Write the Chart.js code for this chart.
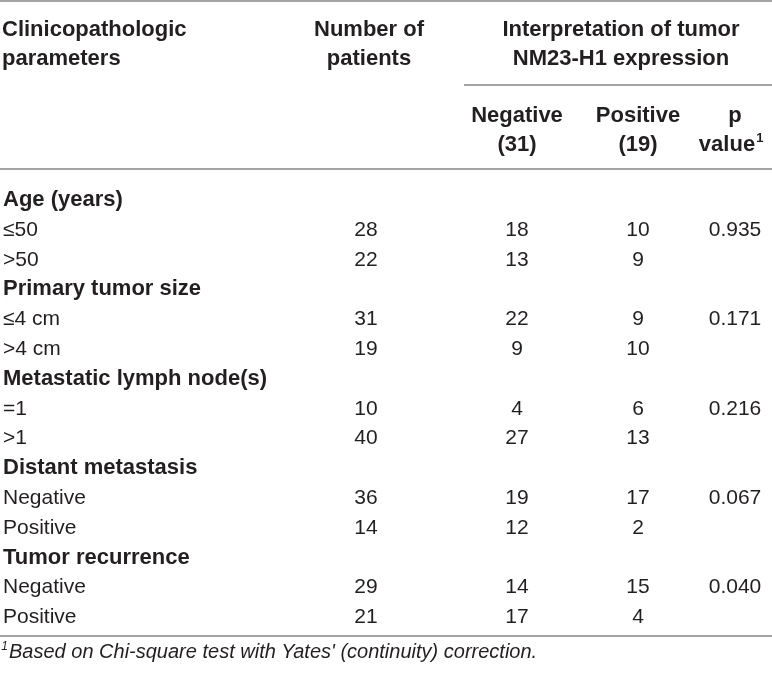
<!DOCTYPE html>
<html>
<head>
    <title>NM23-H1 expression table</title>
    <script src="https://cdn.jsdelivr.net/npm/chart.js@4.4.0/dist/chart.umd.min.js"></script>
    <style>
        body { margin: 0; background: #fff; }
        #tableCanvas { display: block; }
    </style>
</head>
<body>
    <canvas id="tableCanvas" width="772" height="677"></canvas>

    <script>
        // Table data
        const categories = ['Age (years)', '≤50', '>50', 'Primary tumor size', '≤4 cm', '>4 cm',
            'Metastatic lymph node(s)', '=1', '>1', 'Distant metastasis', 'Negative', 'Positive',
            'Tumor recurrence', 'Negative', 'Positive'];
        const groupRows = [0, 3, 6, 9, 12];
        const patients = [null, 28, 22, null, 31, 19, null, 10, 40, null, 36, 14, null, 29, 21];
        const negative = [null, 18, 13, null, 22, 9, null, 4, 27, null, 19, 12, null, 14, 17];
        const positive = [null, 10, 9, null, 9, 10, null, 6, 13, null, 17, 2, null, 15, 4];
        const pValues = [null, '0.935', null, null, '0.171', null, null, '0.216', null, null, '0.067', null, null, '0.040', null];
        const footnote = 'Based on Chi-square test with Yates\' (continuity) correction.';

        // Layout (canvas pixels, used as scale units)
        const W = 772, H = 677;
        const bodyTop = 206, rowStep = 29.8;
        const colX = { label: 3, patients: 366, negative: 517, positive: 638, p: 735 };
        const textColor = '#231f20';
        const ruleColor = '#a3a3a3';
        const boldFont = 'bold 22px "Liberation Sans", Arial, sans-serif';
        const regFont = '21px "Liberation Sans", Arial, sans-serif';
        const italicFont = 'italic 20px "Liberation Sans", Arial, sans-serif';

        const rowY = i => bodyTop + rowStep * i;

        function textSet(points, texts, font, align, extra) {
            return Object.assign({
                type: 'scatter',
                data: points,
                texts: texts,
                font: font,
                align: align,
                pointRadius: 0,
                pointHoverRadius: 0,
                showLine: false
            }, extra || {});
        }

        function rule(x1, x2, y) {
            return {
                type: 'line',
                data: [{ x: x1, y: y }, { x: x2, y: y }],
                borderColor: ruleColor,
                borderWidth: 2,
                pointRadius: 0,
                showLine: true,
                fill: false
            };
        }

        // Body columns
        function column(values, x, align) {
            const pts = [], txt = [];
            values.forEach((v, i) => {
                if (v === null) return;
                pts.push({ x: x, y: rowY(i) });
                txt.push(String(v));
            });
            return textSet(pts, txt, regFont, align);
        }

        const labelPts = [], labelTxt = [], groupPts = [], groupTxt = [];
        categories.forEach((c, i) => {
            if (groupRows.includes(i)) {
                groupPts.push({ x: colX.label, y: rowY(i) });
                groupTxt.push(c);
            } else {
                labelPts.push({ x: colX.label, y: rowY(i) });
                labelTxt.push(c);
            }
        });

        const datasets = [
            // rules
            rule(0, W, 1),
            rule(464, W, 85),
            rule(0, W, 169),
            rule(0, W, 636),
            // header
            textSet([{ x: 2, y: 36 }, { x: 2, y: 65 }], ['Clinicopathologic', 'parameters'], boldFont, 'left'),
            textSet([{ x: 369, y: 36 }, { x: 369, y: 65 }], ['Number of', 'patients'], boldFont, 'center'),
            textSet([{ x: 621, y: 36 }, { x: 621, y: 65 }], ['Interpretation of tumor', 'NM23-H1 expression'], boldFont, 'center'),
            textSet([{ x: 517, y: 122 }, { x: 517, y: 151 }], ['Negative', '(31)'], boldFont, 'center'),
            textSet([{ x: 638, y: 122 }, { x: 638, y: 151 }], ['Positive', '(19)'], boldFont, 'center'),
            textSet([{ x: 735, y: 122 }, { x: 727, y: 151 }], ['p', 'value'], boldFont, 'center', { sup: [null, '1'] }),
            // body
            textSet(groupPts, groupTxt, boldFont, 'left'),
            textSet(labelPts, labelTxt, regFont, 'left'),
            column(patients, colX.patients, 'center'),
            column(negative, colX.negative, 'center'),
            column(positive, colX.positive, 'center'),
            column(pValues, colX.p, 'center'),
            // footnote
            textSet([{ x: 9, y: 658 }], [footnote], italicFont, 'left', { supBefore: '1' })
        ];

        // Draw the texts at the positions the scales give each point
        const cellText = {
            id: 'cellText',
            afterDatasetsDraw(chart) {
                const ctx = chart.ctx;
                ctx.save();
                ctx.fillStyle = textColor;
                ctx.textBaseline = 'alphabetic';
                chart.data.datasets.forEach((ds, di) => {
                    if (!ds.texts) return;
                    const meta = chart.getDatasetMeta(di);
                    meta.data.forEach((pt, i) => {
                        ctx.font = ds.font;
                        ctx.textAlign = ds.align;
                        ctx.fillText(ds.texts[i], pt.x, pt.y);
                        if (ds.sup && ds.sup[i]) {
                            const w = ctx.measureText(ds.texts[i]).width;
                            const right = ds.align === 'center' ? pt.x + w / 2 : pt.x + w;
                            ctx.font = 'bold 13px "Liberation Sans", Arial, sans-serif';
                            ctx.textAlign = 'left';
                            ctx.fillText(ds.sup[i], right + 1, pt.y - 9);
                        }
                        if (ds.supBefore) {
                            ctx.font = 'italic 12px "Liberation Sans", Arial, sans-serif';
                            ctx.textAlign = 'right';
                            ctx.fillText(ds.supBefore, pt.x - 1, pt.y - 8);
                        }
                    });
                });
                ctx.restore();
            }
        };

        const chart = new Chart(document.getElementById('tableCanvas'), {
            type: 'scatter',
            data: { datasets: datasets },
            options: {
                responsive: false,
                animation: false,
                devicePixelRatio: 1,
                layout: { padding: 0 },
                scales: {
                    x: { type: 'linear', min: 0, max: W, display: false },
                    y: { type: 'linear', min: 0, max: H, reverse: true, display: false }
                },
                plugins: {
                    legend: { display: false },
                    tooltip: { enabled: false }
                },
                events: []
            },
            plugins: [cellText]
        });
    </script>
</body>
</html>
